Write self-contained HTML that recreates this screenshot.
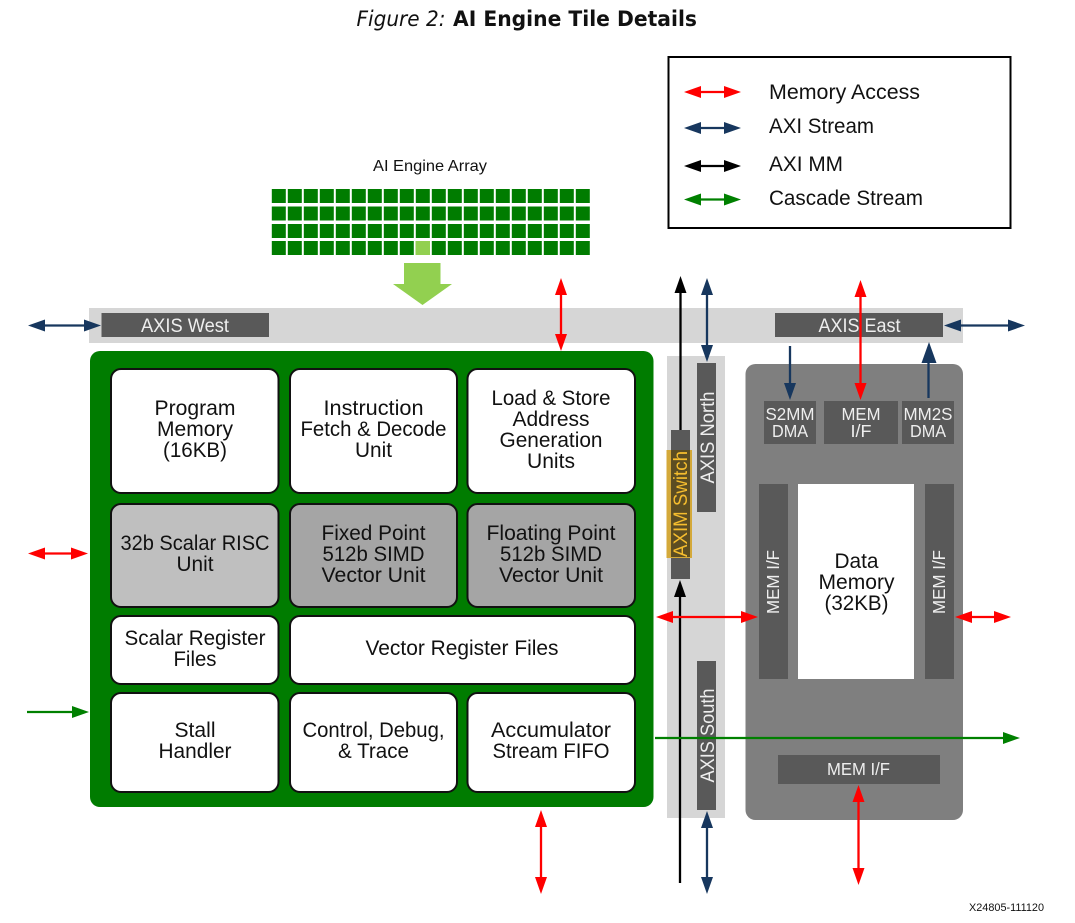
<!DOCTYPE html>
<html><head><meta charset="utf-8"><title>AI Engine Tile Details</title>
<style>
html,body{margin:0;padding:0;background:#fff;width:1075px;height:923px;overflow:hidden}
svg{display:block}
text{font-family:"Liberation Sans",sans-serif;text-anchor:middle;font-size:21.5px;fill:#111}
.w{fill:#eee}
.s{font-size:17.5px}
.l{text-anchor:start;font-size:21.5px}
</style></head><body>
<svg width="1075" height="923" viewBox="0 0 1075 923" xmlns="http://www.w3.org/2000/svg">
<defs>
<pattern id="g" x="271.5" y="0" width="16" height="1000" patternUnits="userSpaceOnUse"><rect x="0.3" y="0" width="14" height="1000" fill="#007c00"/></pattern>
</defs>
<!-- title -->
<text x="401" y="26" style="font-family:'DejaVu Sans',sans-serif;font-style:italic;font-size:21px" textLength="89" lengthAdjust="spacingAndGlyphs">Figure 2:</text>
<text x="575" y="26" style="font-family:'DejaVu Sans',sans-serif;font-weight:bold;font-size:21px" textLength="244" lengthAdjust="spacingAndGlyphs">AI Engine Tile Details</text>
<!-- legend -->
<rect x="668.5" y="57" width="342" height="171" fill="#fff" stroke="#000" stroke-width="2"/>
<text class="l" x="769" y="99" textLength="151" lengthAdjust="spacingAndGlyphs">Memory Access</text>
<text class="l" x="769" y="133" textLength="105" lengthAdjust="spacingAndGlyphs">AXI Stream</text>
<text class="l" x="769" y="171" textLength="74" lengthAdjust="spacingAndGlyphs">AXI MM</text>
<text class="l" x="769" y="205" textLength="154" lengthAdjust="spacingAndGlyphs">Cascade Stream</text>
<g stroke-width="2.3">
<path d="M695 92H730" stroke="#f00"/><path d="M684 92l17-6v12zM741 92l-17-6v12z" fill="#f00"/>
<path d="M695 128H730" stroke="#17375e"/><path d="M684 128l17-6v12zM741 128l-17-6v12z" fill="#17375e"/>
<path d="M695 166H730" stroke="#000"/><path d="M684 166l17-6v12zM741 166l-17-6v12z" fill="#000"/>
<path d="M695 199.500H730" stroke="#008000"/><path d="M684 199.500l17-6v12zM741 199.500l-17-6v12z" fill="#008000"/>
</g>
<!-- array -->
<text x="430" y="171" style="font-size:16px" textLength="114" lengthAdjust="spacingAndGlyphs">AI Engine Array</text>
<rect x="271.500" y="189" width="319" height="14" fill="url(#g)"/>
<rect x="271.500" y="206.500" width="319" height="14" fill="url(#g)"/>
<rect x="271.500" y="224" width="319" height="14" fill="url(#g)"/>
<rect x="271.500" y="241" width="319" height="14" fill="url(#g)"/>
<rect x="415.500" y="241" width="14.500" height="14" fill="#92d050"/>
<path d="M404 263H440.500V284H452L422.500 305 393 284H404z" fill="#92d050"/>
<!-- AXIS bar -->
<rect x="89" y="308" width="874" height="35" fill="#d6d6d6"/>
<rect x="101.500" y="313" width="167.500" height="24" fill="#595959"/>
<text class="w" x="185" y="332" style="font-size:19px" textLength="88" lengthAdjust="spacingAndGlyphs">AXIS West</text>
<rect x="775" y="313" width="168" height="24" fill="#595959"/>
<text class="w" x="859.500" y="332" style="font-size:19px" textLength="82" lengthAdjust="spacingAndGlyphs">AXIS East</text>
<!-- green block -->
<rect x="90" y="351" width="563.500" height="456" rx="10" fill="#007c00"/>
<g stroke="#111" stroke-width="2">
<rect x="111" y="369" width="167.500" height="124" rx="10" fill="#fff"/>
<rect x="290" y="369" width="167" height="124" rx="10" fill="#fff"/>
<rect x="467.500" y="369" width="167.500" height="124" rx="10" fill="#fff"/>
<rect x="111" y="504" width="167.500" height="103" rx="10" fill="#bfbfbf"/>
<rect x="290" y="504" width="167" height="103" rx="10" fill="#a5a5a5"/>
<rect x="467.500" y="504" width="167.500" height="103" rx="10" fill="#a5a5a5"/>
<rect x="111" y="616" width="167.500" height="68" rx="10" fill="#fff"/>
<rect x="290" y="616" width="345" height="68" rx="10" fill="#fff"/>
<rect x="111" y="693" width="167.500" height="99" rx="10" fill="#fff"/>
<rect x="290" y="693" width="167" height="99" rx="10" fill="#fff"/>
<rect x="467.500" y="693" width="167.500" height="99" rx="10" fill="#fff"/>
</g>
<text x="195" y="415" textLength="81" lengthAdjust="spacingAndGlyphs">Program</text>
<text x="195" y="436" textLength="76" lengthAdjust="spacingAndGlyphs">Memory</text>
<text x="195" y="457" textLength="64" lengthAdjust="spacingAndGlyphs">(16KB)</text>
<text x="373.500" y="415" textLength="100" lengthAdjust="spacingAndGlyphs">Instruction</text>
<text x="373.500" y="436" textLength="146" lengthAdjust="spacingAndGlyphs">Fetch &amp; Decode</text>
<text x="373.500" y="457" textLength="37" lengthAdjust="spacingAndGlyphs">Unit</text>
<text x="551" y="405" textLength="119" lengthAdjust="spacingAndGlyphs">Load &amp; Store</text>
<text x="551" y="426" textLength="77" lengthAdjust="spacingAndGlyphs">Address</text>
<text x="551" y="447" textLength="103" lengthAdjust="spacingAndGlyphs">Generation</text>
<text x="551" y="468" textLength="48" lengthAdjust="spacingAndGlyphs">Units</text>
<text x="195" y="550" textLength="149" lengthAdjust="spacingAndGlyphs">32b Scalar RISC</text>
<text x="195" y="571" textLength="37" lengthAdjust="spacingAndGlyphs">Unit</text>
<text x="373.500" y="540" textLength="104" lengthAdjust="spacingAndGlyphs">Fixed Point</text>
<text x="373.500" y="561" textLength="102" lengthAdjust="spacingAndGlyphs">512b SIMD</text>
<text x="373.500" y="582" textLength="104" lengthAdjust="spacingAndGlyphs">Vector Unit</text>
<text x="551" y="540" textLength="129" lengthAdjust="spacingAndGlyphs">Floating Point</text>
<text x="551" y="561" textLength="102" lengthAdjust="spacingAndGlyphs">512b SIMD</text>
<text x="551" y="582" textLength="104" lengthAdjust="spacingAndGlyphs">Vector Unit</text>
<text x="195" y="645" textLength="141" lengthAdjust="spacingAndGlyphs">Scalar Register</text>
<text x="195" y="666" textLength="43" lengthAdjust="spacingAndGlyphs">Files</text>
<text x="462" y="655" textLength="193" lengthAdjust="spacingAndGlyphs">Vector Register Files</text>
<text x="195" y="737" textLength="41" lengthAdjust="spacingAndGlyphs">Stall</text>
<text x="195" y="758" textLength="73" lengthAdjust="spacingAndGlyphs">Handler</text>
<text x="373.500" y="737" textLength="142" lengthAdjust="spacingAndGlyphs">Control, Debug,</text>
<text x="373.500" y="758" textLength="71" lengthAdjust="spacingAndGlyphs">&amp; Trace</text>
<text x="551" y="737" textLength="120" lengthAdjust="spacingAndGlyphs">Accumulator</text>
<text x="551" y="758" textLength="117" lengthAdjust="spacingAndGlyphs">Stream FIFO</text>
<!-- AXI column -->
<rect x="667" y="356" width="58" height="462" fill="#d6d6d6"/>
<rect x="697" y="363" width="19" height="149" fill="#595959"/>
<text class="w" transform="translate(714,437.500) rotate(-90)" style="font-size:19px" textLength="92" lengthAdjust="spacingAndGlyphs">AXIS North</text>
<rect x="697" y="661" width="19" height="149" fill="#595959"/>
<text class="w" transform="translate(714,735.500) rotate(-90)" style="font-size:19px" textLength="94" lengthAdjust="spacingAndGlyphs">AXIS South</text>
<rect x="671" y="430" width="19" height="149" fill="#595959"/>
<rect x="666.500" y="450" width="25.500" height="108" fill="#d4a93a"/>
<rect x="671" y="450" width="19" height="107" fill="#5c4d22"/>
<text transform="translate(687,504) rotate(-90)" style="font-size:19px;fill:#f5bd2e" textLength="106" lengthAdjust="spacingAndGlyphs">AXIM Switch</text>
<!-- memory block -->
<rect x="745.500" y="364" width="217.500" height="456" rx="10" fill="#7f7f7f"/>
<rect x="764" y="401" width="52" height="43" fill="#595959"/>
<rect x="824" y="401" width="74" height="43" fill="#595959"/>
<rect x="902" y="401" width="52" height="43" fill="#595959"/>
<text class="w s" x="790" y="420" textLength="49" lengthAdjust="spacingAndGlyphs">S2MM</text>
<text class="w s" x="790" y="437" textLength="36" lengthAdjust="spacingAndGlyphs">DMA</text>
<text class="w s" x="861" y="420" textLength="39" lengthAdjust="spacingAndGlyphs">MEM</text>
<text class="w s" x="861" y="437" textLength="21" lengthAdjust="spacingAndGlyphs">I/F</text>
<text class="w s" x="928" y="420" textLength="49" lengthAdjust="spacingAndGlyphs">MM2S</text>
<text class="w s" x="928" y="437" textLength="36" lengthAdjust="spacingAndGlyphs">DMA</text>
<rect x="759" y="484" width="29" height="195" fill="#595959"/>
<rect x="798" y="484" width="116" height="195" fill="#fff"/>
<rect x="925" y="484" width="29" height="195" fill="#595959"/>
<text class="w s" transform="translate(779,582) rotate(-90)" textLength="64" lengthAdjust="spacingAndGlyphs">MEM I/F</text>
<text class="w s" transform="translate(945,582) rotate(-90)" textLength="64" lengthAdjust="spacingAndGlyphs">MEM I/F</text>
<text x="856.500" y="568" textLength="44" lengthAdjust="spacingAndGlyphs">Data</text>
<text x="856.500" y="589" textLength="76" lengthAdjust="spacingAndGlyphs">Memory</text>
<text x="856.500" y="610" textLength="64" lengthAdjust="spacingAndGlyphs">(32KB)</text>
<rect x="778" y="755" width="162" height="29" fill="#595959"/>
<text class="w s" x="858.500" y="775" textLength="63" lengthAdjust="spacingAndGlyphs">MEM I/F</text>
<!-- connectors -->
<g stroke-width="2.3">
<path d="M40 325.500H90" stroke="#17375e"/><path d="M28 325.500l17-6v12zM101 325.500l-17-6v12z" fill="#17375e"/>
<path d="M960 325.500H1010" stroke="#17375e"/><path d="M944 325.500l17-6v12zM1025 325.500l-17-6v12z" fill="#17375e"/>
<path d="M561 290V340" stroke="#f00"/><path d="M561 278l-6 17h12zM561 351l-6-17h12z" fill="#f00"/>
<path d="M680.500 290V430" stroke="#000"/><path d="M680.500 276l-6 17h12z" fill="#000"/>
<path d="M707 290V350" stroke="#17375e"/><path d="M707 278l-6 17h12zM707 362l-6-17h12z" fill="#17375e"/>
<path d="M860.500 292V390" stroke="#f00"/><path d="M860.500 280l-6 17h12zM860.500 400l-6-17h12z" fill="#f00"/>
<path d="M790 346V390" stroke="#17375e"/><path d="M790 400l-6-17h12z" fill="#17375e"/>
<path d="M928.500 398V355" stroke="#17375e"/><path d="M929 342l-7.500 21h15z" fill="#17375e"/>
<path d="M40 553.500H78" stroke="#f00"/><path d="M28 553.500l17-6v12zM88 553.500l-17-6v12z" fill="#f00"/>
<path d="M27 712H80" stroke="#008000"/><path d="M89 712l-17-6v12z" fill="#008000"/>
<path d="M541 822V882" stroke="#f00"/><path d="M541 810l-6 17h12zM541 894l-6-17h12z" fill="#f00"/>
<path d="M680 595V883" stroke="#000"/><path d="M680 580l-6 17h12z" fill="#000"/>
<path d="M707 822V882" stroke="#17375e"/><path d="M707 811l-6 17h12zM707 894l-6-17h12z" fill="#17375e"/>
<path d="M668 617H748" stroke="#f00"/><path d="M656 617l17-6v12zM758 617l-17-6v12z" fill="#f00"/>
<path d="M965 617H1000" stroke="#f00"/><path d="M955 617l17-6v12zM1011 617l-17-6v12z" fill="#f00"/>
<path d="M655 738H1010" stroke="#008000"/><path d="M1020 738l-17-6v12z" fill="#008000"/>
<path d="M858.500 797V875" stroke="#f00"/><path d="M858.500 785l-6 17h12zM858.500 885l-6-17h12z" fill="#f00"/>
</g>
<text x="1006.500" y="911" style="font-size:11px" textLength="75" lengthAdjust="spacingAndGlyphs">X24805-111120</text>
</svg>
</body></html>
